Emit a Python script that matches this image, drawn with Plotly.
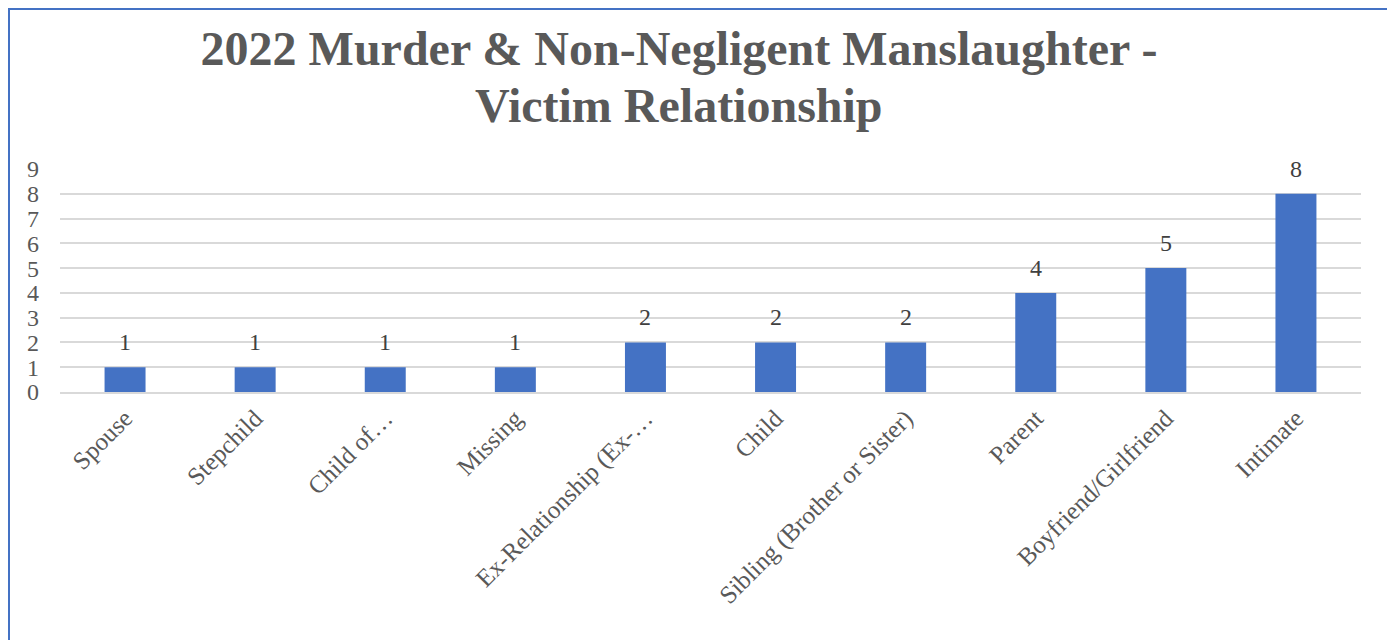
import plotly.graph_objects as go

categories = ["Spouse", "Stepchild", "Child of…", "Missing", "Ex-Relationship (Ex-…",
              "Child", "Sibling (Brother or Sister)", "Parent", "Boyfriend/Girlfriend", "Intimate"]
values = [1, 1, 1, 1, 2, 2, 2, 4, 5, 8]
y_ticks = [0, 1, 2, 3, 4, 5, 6, 7, 8, 9]
title_line1 = "2022 Murder & Non-Negligent Manslaughter -"
title_line2 = "Victim Relationship"

W, H = 1395, 640
L, T = 52, 161
pw, ph = 1301, 223
R, B = W - L - pw, H - T - ph
TITLE_CX = 671

fig = go.Figure(go.Bar(
    x=categories, y=values,
    marker=dict(color="#4472C4", line=dict(width=0)),
    width=0.315,
    hoverinfo="x+y",
))

annotations = [
    dict(x=c, y=v, xref="x", yref="y", text=str(v), showarrow=False,
         xanchor="center", yanchor="bottom", yshift=10,
         font=dict(family="Liberation Serif", size=24, color="#404040"))
    for c, v in zip(categories, values)
]
annotations.append(dict(
    x=(TITLE_CX - L) / pw, y=(H - B - 97) / ph, xref="paper", yref="paper",
    text="<b>" + title_line2 + "</b>",
    showarrow=False, xanchor="center", yanchor="middle",
    font=dict(family="Liberation Serif", size=48, color="#595959")))

fig.update_layout(
    width=W, height=H,
    margin=dict(l=L, r=R, t=T, b=B),
    paper_bgcolor="white", plot_bgcolor="white",
    showlegend=False,
    title=dict(text="<b>" + title_line1 + "</b>", x=TITLE_CX / W, xanchor="center",
               y=1 - 40 / H, yanchor="middle",
               font=dict(family="Liberation Serif", size=48, color="#595959")),
    xaxis=dict(tickangle=-45, showgrid=False, showline=True, linecolor="#D9D9D9", linewidth=1.5,
               tickfont=dict(family="Liberation Serif", size=25, color="#595959"),
               ticks="", zeroline=False),
    yaxis=dict(range=[0, 9], tickvals=y_ticks, showgrid=True, gridcolor="#D9D9D9", gridwidth=1.5,
               showline=False, zeroline=False, ticks="",
               ticklabelstandoff=20,
               tickfont=dict(family="Liberation Serif", size=24, color="#595959")),
    annotations=annotations,
    shapes=[dict(type="rect", xref="paper", yref="paper",
                 x0=(1 - L) / pw, x1=(1382 - L) / pw,
                 y0=(H - B - 700) / ph, y1=(H - B - 1) / ph,
                 line=dict(color="#4472C4", width=2), fillcolor="rgba(0,0,0,0)", layer="below")],
)

fig.write_html("out.html")
